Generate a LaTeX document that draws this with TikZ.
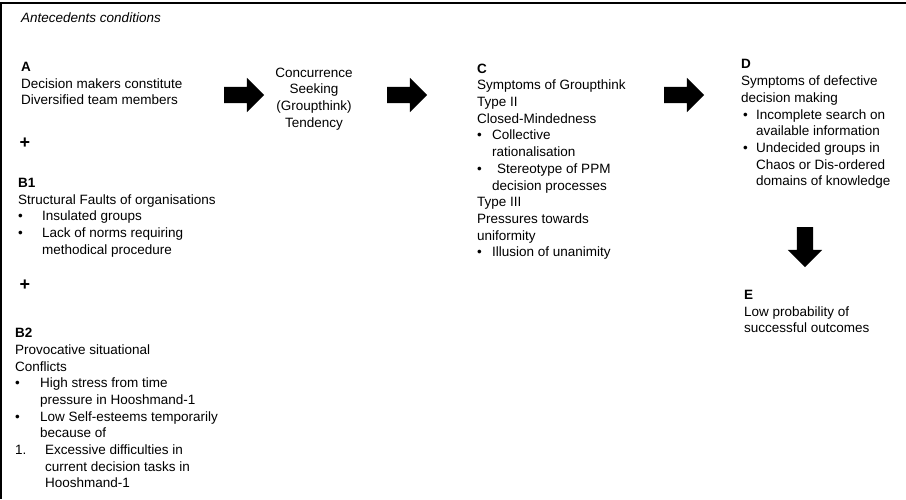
\documentclass[tikz,border=0pt]{standalone}
\usepackage{fontspec}
\setmainfont{Liberation Sans}
\usepackage{tikz}
\usetikzlibrary{shapes.arrows}
\newcommand{\bul}[1]{\makebox[#1][l]{•}}
\newcommand{\hang}[1]{\hspace*{#1}}

\begin{document}
\begin{tikzpicture}[x=1pt, y=-1pt, every node/.style={inner sep=0pt, font=\fontsize{13.5}{16.7}\selectfont}, block/.style={anchor=north west, align=left}, plus/.style={font=\fontsize{18}{18}\selectfont\bfseries}, fat arrow/.style={single arrow, fill=black, minimum height=40pt, inner sep=8pt, single arrow head extend=9pt}]

\useasboundingbox (0,0) rectangle (906,499);
\draw[line width=2pt] (906,2.5) -- (1,2.5) -- (1,499);

\node(ante)[block, font=\fontsize{13.5}{16.7}\selectfont\itshape] at (21,13){Antecedents conditions};

% antecedents
\node(a)[block] at (21,62){\textbf{A}\\Decision makers constitute\\Diversified team members};
\node(plus1)[plus] at (25,143){+};
\node(b1)[block] at (18,178){\textbf{B1}\\Structural Faults of organisations\\\bul{24pt}Insulated groups\\\bul{24pt}Lack of norms requiring\\\hang{24pt}methodical procedure};
\node(plus2)[plus] at (25,285){+};
\node(b2)[block] at (15,328){\textbf{B2}\\Provocative situational\\Conflicts\\\bul{25pt}High stress from time\\\hang{25pt}pressure in Hooshmand-1\\\bul{25pt}Low Self-esteems temporarily\\\hang{25pt}because of\\\makebox[30pt][l]{1.}Excessive difficulties in\\\hang{30pt}current decision tasks in\\\hang{30pt}Hooshmand-1};

\node(cst)[anchor=north, align=center] at (314,67.5){Concurrence\\Seeking\\(Groupthink)\\Tendency};

% symptoms and outcomes
\node(c)[block] at (477,63.5){\textbf{C}\\Symptoms of Groupthink\\Type II\\Closed-Mindedness\\\bul{15pt}Collective\\\hang{15pt}rationalisation\\\bul{20pt}Stereotype of PPM\\\hang{15pt}decision processes\\Type III\\Pressures towards\\uniformity\\\bul{15pt}Illusion of unanimity};
\node(d)[block] at (741,59.5){\textbf{D}\\Symptoms of defective\\decision making\\\hang{2pt}\bul{13pt}Incomplete search on\\\hang{15pt}available information\\\hang{2pt}\bul{13pt}Undecided groups in\\\hang{15pt}Chaos or Dis-ordered\\\hang{15pt}domains of knowledge};
\node(e)[block] at (744,290){\textbf{E}\\Low probability of\\successful outcomes};

\node(ar1)[fat arrow] at (240,95){};
\node(ar2)[fat arrow] at (403,95){};
\node(ar3)[fat arrow] at (680,95){};
\node(ar4)[fat arrow, shape border rotate=270] at (805,243){};
\end{tikzpicture}
\end{document}
